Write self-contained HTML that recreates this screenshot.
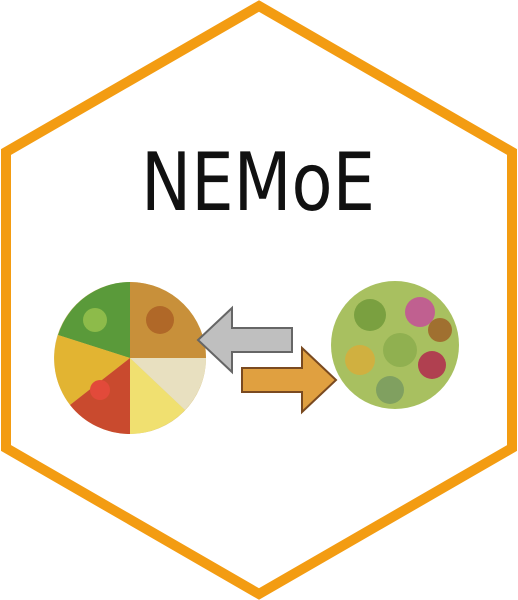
<!DOCTYPE html>
<html><head><meta charset="utf-8"><style>
html,body{margin:0;padding:0;background:#fff;}
svg{display:block;}
</style></head><body>
<svg width="518" height="600" viewBox="0 0 518 600">
  <polygon points="259,6 512,152 512,448 259,594 6,448 6,152" fill="#fff" stroke="#F39C12" stroke-width="10" stroke-linejoin="miter"/>
  <text x="141" y="210" textLength="234" lengthAdjust="spacingAndGlyphs" font-family="DejaVu Sans, Liberation Sans, sans-serif" font-size="80" fill="#111">NEMoE</text>
  <g>
    <circle cx="130" cy="358" r="76" fill="#d9c27a"/>
    <path d="M130,358 L130,282 A76,76 0 0,0 58,335 Z" fill="#5a9a3a"/>
    <path d="M130,358 L58,335 A76,76 0 0,0 70,405 Z" fill="#e2b432"/>
    <path d="M130,358 L70,405 A76,76 0 0,0 130,434 Z" fill="#c94a2e"/>
    <path d="M130,358 L130,434 A76,76 0 0,0 185,410 Z" fill="#f0e070"/>
    <path d="M130,358 L185,410 A76,76 0 0,0 206,358 Z" fill="#e8e0c0"/>
    <path d="M130,358 L206,358 A76,76 0 0,0 130,282 Z" fill="#c8903a"/>
    <circle cx="95" cy="320" r="12" fill="#8dbb4a"/>
    <circle cx="160" cy="320" r="14" fill="#b06828"/>
    <circle cx="100" cy="390" r="10" fill="#e24a3a"/>
  </g>
  <g>
    <polygon points="198,340 232,308 232,328 292,328 292,352 232,352 232,372" fill="#bfbfbf" stroke="#666" stroke-width="2"/>
  </g>
  <g>
    <polygon points="336,380 302,348 302,368 242,368 242,392 302,392 302,412" fill="#e0a040" stroke="#7a4a20" stroke-width="2"/>
  </g>
  <g>
    <circle cx="395" cy="345" r="64" fill="#a8c060"/>
    <circle cx="370" cy="315" r="16" fill="#7aa040"/>
    <circle cx="420" cy="312" r="15" fill="#c06090"/>
    <circle cx="360" cy="360" r="15" fill="#d0b040"/>
    <circle cx="400" cy="350" r="17" fill="#90b050"/>
    <circle cx="432" cy="365" r="14" fill="#b04050"/>
    <circle cx="390" cy="390" r="14" fill="#80a060"/>
    <circle cx="440" cy="330" r="12" fill="#a07030"/>
  </g>
</svg>
</body></html>
